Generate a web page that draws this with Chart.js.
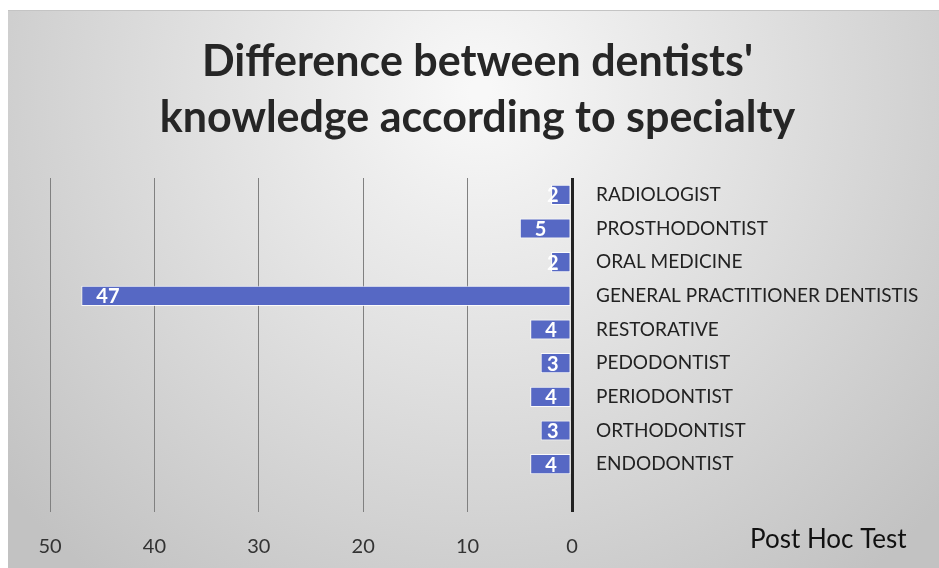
<!DOCTYPE html>
<html>
<head>
<meta charset="utf-8">
<script src="https://cdn.jsdelivr.net/npm/chart.js@4/dist/chart.umd.min.js"></script>
<style>
html,body{margin:0;padding:0;background:#fff;}
canvas{display:block;}
</style>
</head>
<body>
<canvas id="c" width="939" height="568"></canvas>
<script>
const categories = ["RADIOLOGIST","PROSTHODONTIST","ORAL MEDICINE","GENERAL PRACTITIONER DENTISTIS","RESTORATIVE","PEDODONTIST","PERIODONTIST","ORTHODONTIST","ENDODONTIST"];
const values = [2,5,2,47,4,3,4,3,4];
const titleLines = ["Difference between dentists'","knowledge according to specialty"];
const axisTitle = "Post Hoc Test";

const bgPlugin = {
  id: 'bg',
  beforeDraw(chart) {
    const ctx = chart.ctx;
    ctx.save();
    ctx.fillStyle = '#ffffff';
    ctx.fillRect(0, 0, chart.width, chart.height);
    const g = ctx.createRadialGradient(480, 90, 10, 480, 90, 620);
    g.addColorStop(0, '#f8f8f8');
    g.addColorStop(0.45, '#e0e0e0');
    g.addColorStop(1, '#c2c2c2');
    ctx.fillStyle = g;
    ctx.fillRect(8, 10, chart.width - 8, chart.height - 10);
    ctx.fillStyle = '#c4c4c4';
    ctx.fillRect(8, 10, chart.width - 8, 1);
    ctx.restore();
  }
};

const labelPlugin = {
  id: 'barLabels',
  afterDatasetsDraw(chart) {
    const ctx = chart.ctx;
    const meta = chart.getDatasetMeta(0);
    ctx.save();
    ctx.font = 'bold 20px Lato';
    ctx.fillStyle = '#ffffff';
    ctx.textAlign = 'left';
    ctx.textBaseline = 'middle';
    meta.data.forEach((bar, i) => {
      const left = Math.min(bar.x, bar.base);
      let x = Math.min(left + 15, 547);
      ctx.fillText(String(values[i]), x, bar.y + 1);
    });
    ctx.font = '26px Lato';
    ctx.fillStyle = '#111111';
    ctx.textBaseline = 'alphabetic';
    ctx.fillText(axisTitle, 750, 548);
    ctx.restore();
  }
};

new Chart(document.getElementById('c'), {
  type: 'bar',
  data: {
    labels: categories,
    datasets: [{
      data: values,
      backgroundColor: '#5668c4',
      borderColor: 'rgba(255,255,255,0.85)',
      borderWidth: 1,
      borderSkipped: false,
      barPercentage: 0.6,
      categoryPercentage: 1
    }]
  },
  plugins: [bgPlugin, labelPlugin],
  options: {
    indexAxis: 'y',
    responsive: false,
    devicePixelRatio: 1,
    animation: false,
    layout: { padding: { left: 16, right: 0, top: 0, bottom: 0 } },
    plugins: {
      legend: { display: false },
      tooltip: { enabled: false },
      title: {
        display: true,
        text: titleLines,
        color: '#262626',
        font: { family: 'Lato', size: 43, weight: 'bold', lineHeight: '56px' },
        padding: { top: 34, bottom: 32 }
      }
    },
    scales: {
      x: {
        reverse: true,
        min: 0,
        max: 50,
        ticks: { stepSize: 10, color: '#333333', font: { family: 'Lato', size: 20 }, padding: 23 },
        grid: {
          color: (c) => c.tick && c.tick.value === 0 ? '#222222' : '#808080',
          lineWidth: (c) => c.tick && c.tick.value === 0 ? 3 : 1,
          tickLength: 31,
          drawTicks: true
        },
        border: { display: false },
        afterFit(s) { s.height = 87; }
      },
      y: {
        position: 'right',
        ticks: { color: '#222222', font: { family: 'Lato', size: 19 }, padding: 16 },
        grid: { display: false },
        border: { display: false },
        afterFit(s) { s.width = 367; }
      },
      yLeftSpacer: {
        type: 'category',
        position: 'left',
        labels: [],
        ticks: { display: false },
        grid: { display: false },
        border: { display: false },
        afterFit(s) { s.width = 34; }
      }
    }
  }
});
</script>
</body>
</html>
